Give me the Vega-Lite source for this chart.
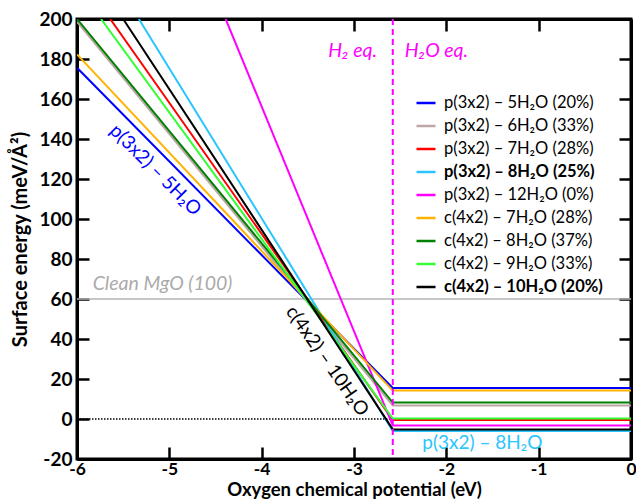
{
  "$schema": "https://vega.github.io/schema/vega-lite/v6.json",
  "width": 554,
  "height": 440,
  "autosize": "none",
  "padding": {"left": 77, "top": 19, "right": 5, "bottom": 43},
  "background": "white",
  "config": {"font": "Lato", "view": {"stroke": "black", "strokeWidth": 3}},
  "datasets": {
    "curves": [
      {"s": "p(3x2) – 5H₂O (20%)", "mu": -6, "g": 175.6},
      {"s": "p(3x2) – 5H₂O (20%)", "mu": -2.58, "g": 15.5},
      {"s": "p(3x2) – 5H₂O (20%)", "mu": 0, "g": 15.5},
      {"s": "p(3x2) – 6H₂O (33%)", "mu": -6, "g": 198.6},
      {"s": "p(3x2) – 6H₂O (33%)", "mu": -2.58, "g": 6.7},
      {"s": "p(3x2) – 6H₂O (33%)", "mu": 0, "g": 6.7},
      {"s": "p(3x2) – 7H₂O (28%)", "mu": -5.64, "g": 200},
      {"s": "p(3x2) – 7H₂O (28%)", "mu": -2.58, "g": -0.5},
      {"s": "p(3x2) – 7H₂O (28%)", "mu": 0, "g": -0.5},
      {"s": "p(3x2) – 8H₂O (25%)", "mu": -5.33, "g": 200},
      {"s": "p(3x2) – 8H₂O (25%)", "mu": -2.58, "g": -6},
      {"s": "p(3x2) – 8H₂O (25%)", "mu": 0, "g": -6},
      {"s": "p(3x2) – 12H₂O (0%)", "mu": -4.39, "g": 200},
      {"s": "p(3x2) – 12H₂O (0%)", "mu": -2.58, "g": -3.3},
      {"s": "p(3x2) – 12H₂O (0%)", "mu": 0, "g": -3.3},
      {"s": "c(4x2) – 7H₂O (28%)", "mu": -6, "g": 182.3},
      {"s": "c(4x2) – 7H₂O (28%)", "mu": -2.58, "g": 14.2},
      {"s": "c(4x2) – 7H₂O (28%)", "mu": 0, "g": 14.2},
      {"s": "c(4x2) – 8H₂O (37%)", "mu": -6, "g": 200},
      {"s": "c(4x2) – 8H₂O (37%)", "mu": -2.58, "g": 8.2},
      {"s": "c(4x2) – 8H₂O (37%)", "mu": 0, "g": 8.2},
      {"s": "c(4x2) – 9H₂O (33%)", "mu": -5.74, "g": 200},
      {"s": "c(4x2) – 9H₂O (33%)", "mu": -2.58, "g": 0.2},
      {"s": "c(4x2) – 9H₂O (33%)", "mu": 0, "g": 0.2},
      {"s": "c(4x2) – 10H₂O (20%)", "mu": -5.5, "g": 200},
      {"s": "c(4x2) – 10H₂O (20%)", "mu": -2.58, "g": -5.2},
      {"s": "c(4x2) – 10H₂O (20%)", "mu": 0, "g": -5.2}
    ],
    "hlines": [
      {"name": "clean", "mu": -6, "g": 60},
      {"name": "clean", "mu": 0, "g": 60}
    ],
    "zero": [
      {"mu": -6, "g": 0},
      {"mu": 0, "g": 0}
    ],
    "eq": [
      {"mu": -2.58}
    ],
    "one": [{}]
  },
  "layer": [
    {
      "data": {"name": "hlines"},
      "mark": {"type": "line", "color": "#b4b4b4", "strokeWidth": 1.5},
      "encoding": {
        "x": {"field": "mu", "type": "quantitative", "scale": {"domain": [-6, 0], "nice": false, "zero": false},
          "axis": {"orient": "top", "title": null, "labels": false, "values": [-6, -5, -4, -3, -2, -1, 0], "tickSize": -12, "tickWidth": 2.5, "tickColor": "black", "domainWidth": 3, "domainColor": "black", "grid": false}},
        "y": {"field": "g", "type": "quantitative", "scale": {"domain": [-20, 200], "nice": false, "zero": false},
          "axis": {"orient": "right", "title": null, "labels": false, "values": [-20, 0, 20, 40, 60, 80, 100, 120, 140, 160, 180, 200], "tickSize": -12, "tickWidth": 2.5, "tickColor": "black", "domainWidth": 3, "domainColor": "black", "grid": false}}
      }
    },
    {
      "data": {"name": "zero"},
      "mark": {"type": "line", "color": "black", "strokeWidth": 1.5, "strokeDash": [1.5, 1.5]},
      "encoding": {
        "x": {"field": "mu", "type": "quantitative", "axis": null},
        "y": {"field": "g", "type": "quantitative", "axis": null}
      }
    },
    {
      "data": {"name": "curves"},
      "mark": {"type": "line", "strokeWidth": 2, "clip": true},
      "encoding": {
        "x": {"field": "mu", "type": "quantitative",
          "axis": {"orient": "bottom", "title": "Oxygen chemical potential (eV)", "values": [-6, -5, -4, -3, -2, -1, 0], "labelExpr": "toString(datum.value)", "labelFontSize": 17.5, "labelFontWeight": "bold", "labelColor": "black", "labelPadding": 13, "labelFlush": false, "titleFontSize": 18.5, "titleFontWeight": "bold", "titleColor": "black", "titlePadding": 3, "tickSize": -12, "tickWidth": 2.5, "tickColor": "black", "domainWidth": 3, "domainColor": "black", "grid": false}},
        "y": {"field": "g", "type": "quantitative",
          "axis": {"orient": "left", "title": "Surface energy (meV/Å²)", "values": [-20, 0, 20, 40, 60, 80, 100, 120, 140, 160, 180, 200], "labelExpr": "toString(datum.value)", "labelFontSize": 19, "labelFontWeight": "bold", "labelColor": "black", "labelPadding": 17, "labelFlush": false, "titleFontSize": 20, "titleFontWeight": "bold", "titleColor": "black", "titlePadding": 8, "tickSize": -12, "tickWidth": 2.5, "tickColor": "black", "domainWidth": 3, "domainColor": "black", "grid": false}},
        "color": {"field": "s", "type": "nominal",
          "scale": {
            "domain": ["p(3x2) – 5H₂O (20%)", "p(3x2) – 6H₂O (33%)", "p(3x2) – 7H₂O (28%)", "p(3x2) – 8H₂O (25%)", "p(3x2) – 12H₂O (0%)", "c(4x2) – 7H₂O (28%)", "c(4x2) – 8H₂O (37%)", "c(4x2) – 9H₂O (33%)", "c(4x2) – 10H₂O (20%)"],
            "range": ["#0000ff", "#bca6a6", "#ff0000", "#29c5ff", "#ff00ff", "#ffb300", "#008000", "#33ff33", "#000000"]
          },
          "legend": {
            "orient": "none", "legendX": 338, "legendY": 73, "title": null,
            "symbolType": "stroke", "symbolSize": 361, "symbolStrokeWidth": 2.5,
            "labelFontSize": 16.5, "labelColor": "black", "labelOffset": 7, "labelLimit": 300, "rowPadding": 3,
            "encode": {"labels": {"update": {"fontWeight": {"signal": "indexof(['p(3x2) – 8H₂O (25%)', 'c(4x2) – 10H₂O (20%)'], datum.value) >= 0 ? 'bold' : 'normal'"}}}}
          }
        }
      }
    },
    {
      "data": {"name": "eq"},
      "mark": {"type": "rule", "color": "#ff00ff", "strokeWidth": 2, "strokeDash": [6, 4]},
      "encoding": {
        "x": {"field": "mu", "type": "quantitative", "axis": null}
      }
    },
    {
      "data": {"name": "one"},
      "mark": {"type": "text", "text": "Clean MgO (100)", "fontSize": 19.5, "fontStyle": "italic", "color": "#aaaaaa", "align": "left", "baseline": "alphabetic"},
      "encoding": {"x": {"datum": -5.83, "type": "quantitative", "axis": null}, "y": {"datum": 64.5, "type": "quantitative", "axis": null}}
    },
    {
      "data": {"name": "one"},
      "mark": {"type": "text", "text": "H₂ eq.", "fontSize": 19.5, "fontStyle": "italic", "color": "#ff00ff", "align": "right", "baseline": "middle"},
      "encoding": {"x": {"datum": -2.75, "type": "quantitative", "axis": null}, "y": {"datum": 184, "type": "quantitative", "axis": null}}
    },
    {
      "data": {"name": "one"},
      "mark": {"type": "text", "text": "H₂O eq.", "fontSize": 19.5, "fontStyle": "italic", "color": "#ff00ff", "align": "left", "baseline": "middle"},
      "encoding": {"x": {"datum": -2.45, "type": "quantitative", "axis": null}, "y": {"datum": 184, "type": "quantitative", "axis": null}}
    },
    {
      "data": {"name": "one"},
      "mark": {"type": "text", "text": "p(3x2) – 5H₂O", "fontSize": 19, "color": "#0000ff", "align": "center", "baseline": "middle", "angle": 45},
      "encoding": {"x": {"datum": -5.15, "type": "quantitative", "axis": null}, "y": {"datum": 124.5, "type": "quantitative", "axis": null}}
    },
    {
      "data": {"name": "one"},
      "mark": {"type": "text", "text": "c(4x2) – 10H₂O", "fontSize": 19, "color": "#000000", "align": "center", "baseline": "middle", "angle": 55},
      "encoding": {"x": {"datum": -3.29, "type": "quantitative", "axis": null}, "y": {"datum": 29, "type": "quantitative", "axis": null}}
    },
    {
      "data": {"name": "one"},
      "mark": {"type": "text", "text": "p(3x2) – 8H₂O", "fontSize": 19, "color": "#29c5ff", "align": "center", "baseline": "middle"},
      "encoding": {"x": {"datum": -1.61, "type": "quantitative", "axis": null}, "y": {"datum": -12, "type": "quantitative", "axis": null}}
    }
  ],
  "resolve": {"axis": {"x": "independent", "y": "independent"}}
}
